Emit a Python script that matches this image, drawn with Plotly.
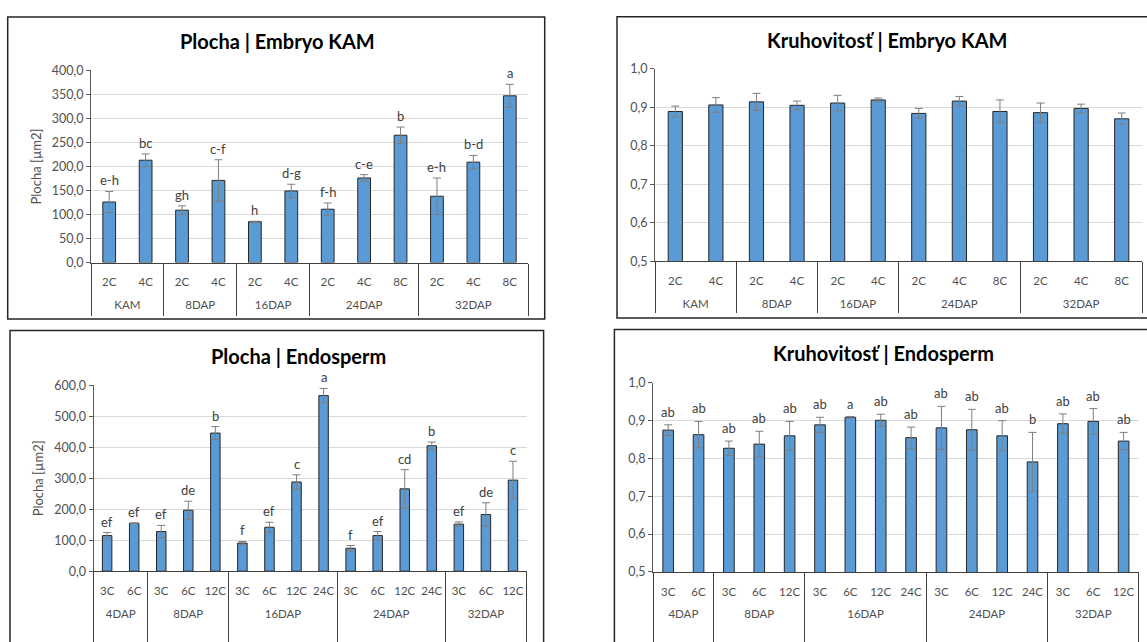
import plotly.graph_objects as go

# ---------------- data ----------------
# Panel 1: Plocha | Embryo KAM
emb_groups = ["KAM", "KAM", "8DAP", "8DAP", "16DAP", "16DAP",
              "24DAP", "24DAP", "24DAP", "32DAP", "32DAP", "32DAP"]
emb_cats = ["2C", "4C", "2C", "4C", "2C", "4C", "2C", "4C", "8C", "2C", "4C", "8C"]
emb_area = [126, 213, 109, 171, 85, 149, 111, 176, 265, 138, 209, 347]
emb_area_err = [22, 13, 9, 43, 1, 14, 13, 7, 17, 38, 14, 24]
emb_area_letters = ["e-h", "bc", "gh", "c-f", "h", "d-g", "f-h", "c-e", "b", "e-h", "b-d", "a"]

# Panel 2: Kruhovitosť | Embryo KAM
emb_circ = [0.889, 0.906, 0.914, 0.905, 0.911, 0.919, 0.884, 0.916, 0.889, 0.886, 0.897, 0.870]
emb_circ_err = [0.014, 0.019, 0.022, 0.011, 0.020, 0.005, 0.013, 0.012, 0.030, 0.025, 0.011, 0.015]

# Panel 3: Plocha | Endosperm
end_groups = ["4DAP", "4DAP", "8DAP", "8DAP", "8DAP",
              "16DAP", "16DAP", "16DAP", "16DAP",
              "24DAP", "24DAP", "24DAP", "24DAP",
              "32DAP", "32DAP", "32DAP"]
end_cats = ["3C", "6C", "3C", "6C", "12C", "3C", "6C", "12C", "24C",
            "3C", "6C", "12C", "24C", "3C", "6C", "12C"]
end_area = [115, 155, 128, 197, 446, 91, 142, 288, 567, 74, 115, 266, 405, 152, 183, 294]
end_area_err = [10, 1, 20, 29, 21, 5, 16, 23, 23, 9, 13, 62, 12, 7, 38, 61]
end_area_letters = ["ef", "ef", "ef", "de", "b", "f", "ef", "c", "a",
                    "f", "ef", "cd", "b", "ef", "de", "c"]

# Panel 4: Kruhovitosť | Endosperm
end_circ = [0.875, 0.863, 0.827, 0.838, 0.860, 0.889, 0.909, 0.901, 0.855,
            0.881, 0.876, 0.860, 0.791, 0.892, 0.898, 0.846]
end_circ_err = [0.014, 0.035, 0.019, 0.034, 0.038, 0.020, 0.002, 0.016, 0.028,
                0.057, 0.054, 0.040, 0.078, 0.026, 0.034, 0.023]
end_circ_letters = ["ab", "ab", "ab", "ab", "ab", "ab", "a", "ab", "ab",
                    "ab", "ab", "ab", "b", "ab", "ab", "ab"]

titles = ["Plocha | Embryo KAM", "Kruhovitosť | Embryo KAM",
          "Plocha | Endosperm", "Kruhovitosť | Endosperm"]
y_title = "Plocha [µm2]"

# ---------------- layout geometry ----------------
# Positions are window pixels of the 1147x642 view, converted to paper
# fractions; the figure fills the whole browser window.
W, H = 1147, 642
FONT = "Lato"
BAR = "#5B9BD5"
TXT = "#505050"
AXC = "#404040"


def px_x(v):
    return min(1.0, max(0.0, v / W))


def px_y(v):
    return min(1.0, max(0.0, 1 - v / H))


def group_info(groups):
    """Group centres and boundaries on the category index scale."""
    names, starts, counts = [], [], []
    for i, g in enumerate(groups):
        if not names or names[-1] != g:
            names.append(g)
            starts.append(i)
            counts.append(1)
        else:
            counts[-1] += 1
    centers = [s + (c - 1) / 2 for s, c in zip(starts, counts)]
    bounds = [s - 0.5 for s in starts] + [len(groups) - 0.5]
    return names, centers, bounds


panels = [
    dict(groups=emb_groups, cats=emb_cats, vals=emb_area, err=emb_area_err,
         letters=emb_area_letters, rng=[0, 400], dtick=50, lshift=1, dlen=52,
         dom_x=(91, 528), dom_y=(265.3, 65), ytitle=True),
    dict(groups=emb_groups, cats=emb_cats, vals=emb_circ, err=emb_circ_err,
         letters=None, rng=[0.5, 1.0], dtick=0.1, lshift=1, dlen=51,
         dom_x=(655, 1142), dom_y=(264, 63.3), ytitle=False),
    dict(groups=end_groups, cats=end_cats, vals=end_area, err=end_area_err,
         letters=end_area_letters, rng=[0, 600], dtick=100, lshift=1, dlen=70,
         dom_x=(93.6, 526.5), dom_y=(587, 393.3), ytitle=True),
    dict(groups=end_groups, cats=end_cats, vals=end_circ, err=end_circ_err,
         letters=end_circ_letters, rng=[0.5, 1.0], dtick=0.1, lshift=3, dlen=70,
         dom_x=(653, 1138.8), dom_y=(587.7, 390.7), ytitle=False),
]

fig = go.Figure()
layout_axes = {}

for i, p in enumerate(panels, start=1):
    xa = "x" if i == 1 else f"x{i}"
    ya = "y" if i == 1 else f"y{i}"
    n = len(p["cats"])
    pos = list(range(n))
    names, centers, bounds = group_info(p["groups"])
    xrng = [-0.5, n - 0.5]

    fig.add_trace(go.Bar(
        x=pos, y=p["vals"], xaxis=xa, yaxis=ya, width=0.35,
        marker=dict(color=BAR, line=dict(color="#262626", width=1)),
        error_y=dict(type="data", array=p["err"], visible=True,
                     color="#7f7f7f", thickness=1, width=4),
        showlegend=False, hoverinfo="skip"))

    if p["letters"]:
        for xp, v, e, t in zip(pos, p["vals"], p["err"], p["letters"]):
            fig.add_annotation(x=xp, y=v + e, xref=xa, yref=ya, text=t,
                               showarrow=False, xanchor="center",
                               yanchor="bottom", yshift=p["lshift"],
                               font=dict(family=FONT, size=13, color=AXC))

    # helper traces so the overlay axes (dividers, group labels) are drawn
    xdiv = f"x{i + 4}"
    xgrp = f"x{i + 8}"
    for xo in (xdiv, xgrp):
        fig.add_trace(go.Scatter(x=[xrng[0]], y=[p["rng"][0]], xaxis=xo, yaxis=ya,
                                 mode="markers", marker=dict(size=1, opacity=0),
                                 showlegend=False, hoverinfo="skip"))

    xkey = "xaxis" if i == 1 else f"xaxis{i}"
    ykey = "yaxis" if i == 1 else f"yaxis{i}"
    layout_axes[xkey] = dict(
        domain=[px_x(p["dom_x"][0]), px_x(p["dom_x"][1])], anchor=ya,
        range=xrng, tickmode="array", tickvals=pos, ticktext=p["cats"],
        tickangle=0, ticks="", ticklabelstandoff=9,
        showline=True, linecolor=AXC, linewidth=1, showgrid=False,
        zeroline=False, fixedrange=True,
        tickfont=dict(family=FONT, size=11.5, color=TXT))
    layout_axes[f"xaxis{i + 4}"] = dict(
        overlaying=xa, anchor=ya, side="bottom", range=xrng,
        tickmode="array", tickvals=bounds, ticks="outside", ticklen=p["dlen"],
        tickcolor=AXC, tickwidth=1, showticklabels=False, showline=False,
        showgrid=False, zeroline=False, fixedrange=True)
    layout_axes[f"xaxis{i + 8}"] = dict(
        overlaying=xa, anchor=ya, side="bottom", range=xrng,
        tickmode="array", tickvals=centers, ticktext=names, tickangle=0,
        ticks="", ticklabelstandoff=34, showline=False, showgrid=False,
        zeroline=False, fixedrange=True,
        tickfont=dict(family=FONT, size=11.5, color=TXT))
    layout_axes[ykey] = dict(
        domain=[px_y(p["dom_y"][0]), px_y(p["dom_y"][1])], anchor=xa,
        range=p["rng"], dtick=p["dtick"], tickformat=".1f",
        showline=True, linecolor="#595959", linewidth=1,
        ticks="outside", ticklen=4, tickcolor="#595959",
        gridcolor="#D9D9D9", gridwidth=1, zeroline=False, fixedrange=True,
        tickfont=dict(family=FONT, size=12.5, color=TXT),
        title=dict(text=y_title if p["ytitle"] else "",
                   font=dict(family=FONT, size=13, color=TXT), standoff=7))

fig.update_layout(**layout_axes)

# Panel frames (chart borders)
frames = [(7.7, 9.5, 544.7, 324), (617, 9.0, 1160, 323),
          (10, 336, 543.6, 680), (614.4, 335, 1160, 680)]
for x0, y0, x1, y1 in frames:
    fig.add_shape(type="rect", xref="paper", yref="paper",
                  x0=x0 / W, x1=x1 / W, y0=1 - y1 / H, y1=1 - y0 / H,
                  line=dict(color="#262626", width=1.5), layer="below")

# Titles
title_pos = [(277, 34), (887, 33), (298, 363), (883, 360)]
for t, (tx, ty) in zip(titles, title_pos):
    fig.add_annotation(text=f"<b>{t}</b>", xref="paper", yref="paper",
                       x=px_x(tx), y=px_y(ty), xanchor="center", yanchor="middle",
                       showarrow=False,
                       font=dict(family=FONT, size=20, color="#000000"))

fig.update_layout(
    autosize=True, margin=dict(l=0, r=0, t=0, b=0, pad=0),
    paper_bgcolor="white", plot_bgcolor="white",
    separators=",.", bargap=0.6,
    font=dict(family=FONT, color=TXT),
)

fig.write_html(
    "out.html",
    config={"displayModeBar": False, "responsive": True},
    default_width="100vw", default_height="100vh",
    post_script="document.body.style.margin='0';"
                "document.body.style.overflow='hidden';"
                "document.documentElement.style.overflow='hidden';",
)
